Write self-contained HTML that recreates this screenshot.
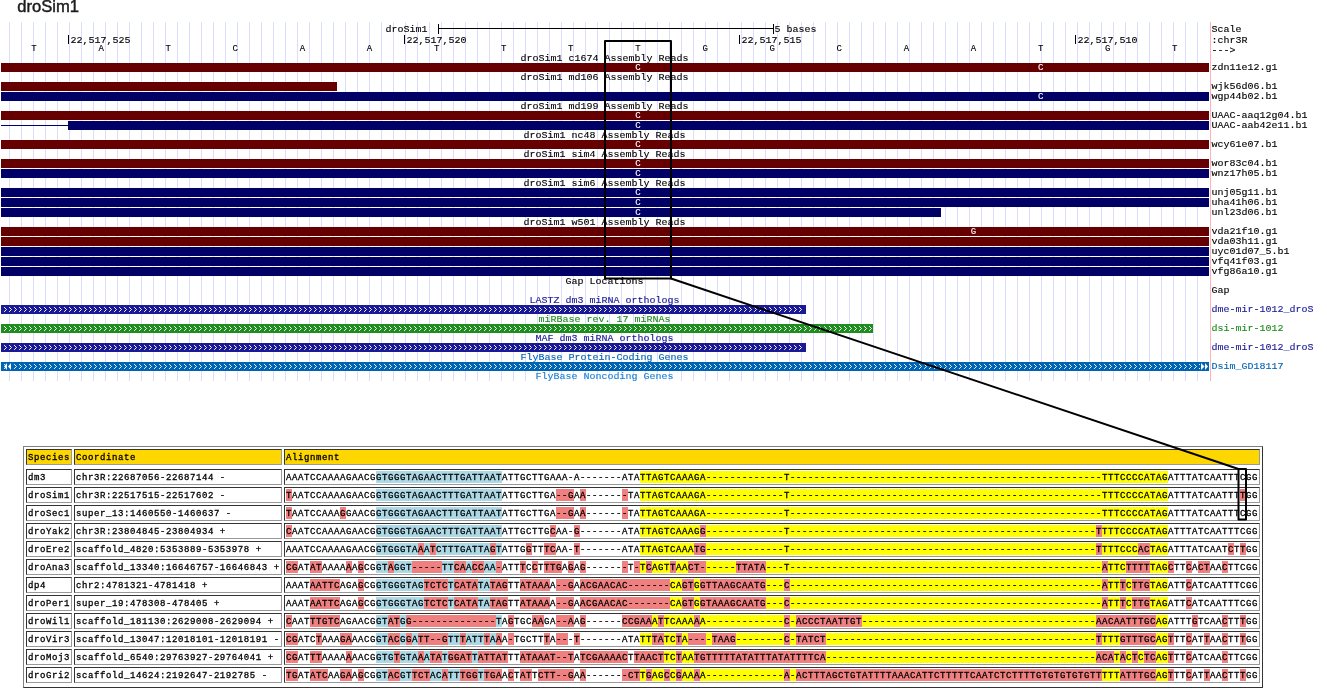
<!DOCTYPE html>
<html lang="en"><head><meta charset="utf-8"><title>droSim1</title>
<style>
html,body{margin:0;padding:0;background:#fff}
body{width:1327px;height:691px;position:relative;overflow:hidden}
.tbl{position:absolute;left:23px;top:446px;width:1238px;height:240px;border:1px solid;border-color:#808080 #333 #333 #808080}
.c{position:absolute;box-sizing:border-box;height:16px;border:1px solid;border-color:#333 #999 #999 #333;padding:1px;font:9px/15px "Liberation Mono", monospace;letter-spacing:0.59375px;white-space:pre;color:#000;overflow:hidden;-webkit-text-stroke:0.3px #000}
.c.h{background:#ffd700}
.c span{display:inline-block;height:12px;line-height:15px;vertical-align:top}
.r{background:#f08080}.b{background:#add8e6}.y{background:#ffff00}
svg{position:absolute;left:0;top:0;will-change:transform}
.tbl{will-change:transform}
.m{font:9px "Liberation Mono", monospace;white-space:pre;stroke-width:0.12px}
</style></head>
<body>
<div class="tbl"><div class="c h" style="left:2px;top:2px;width:46px">Species</div><div class="c h" style="left:50px;top:2px;width:208px">Coordinate</div><div class="c h" style="left:260px;top:2px;width:976px">Alignment</div><div class="c" style="left:2px;top:22px;width:46px">dm3</div><div class="c" style="left:50px;top:22px;width:208px">chr3R:22687056-22687144 -</div><div class="c" style="left:260px;top:22px;width:976px"><span style="width:90px">AAATCCAAAAGAACG</span><span class="b" style="width:126px">GTGGGTAGAACTTTGATTAAT</span><span style="width:138px">ATTGCTTGAAA-A-------ATA</span><span class="y" style="width:144px">TTAGTCAAAGA-------------</span><span class="y" style="width:144px">T-----------------------</span><span class="y" style="width:144px">------------------------</span><span class="y" style="width:96px">-----TTTCCCCATAG</span><span style="width:90px">ATTTATCAATTTCGG</span></div><div class="c" style="left:2px;top:40px;width:46px">droSim1</div><div class="c" style="left:50px;top:40px;width:208px">chr3R:22517515-22517602 -</div><div class="c" style="left:260px;top:40px;width:976px"><span class="r" style="width:6px">T</span><span style="width:84px">AATCCAAAAGAACG</span><span class="b" style="width:126px">GTGGGTAGAACTTTGATTAAT</span><span style="width:54px">ATTGCTTGA</span><span class="r" style="width:18px">--G</span><span style="width:6px">A</span><span class="r" style="width:6px">A</span><span style="width:36px">------</span><span class="r" style="width:6px">-</span><span style="width:12px">TA</span><span class="y" style="width:144px">TTAGTCAAAGA-------------</span><span class="y" style="width:144px">T-----------------------</span><span class="y" style="width:144px">------------------------</span><span class="y" style="width:96px">-----TTTCCCCATAG</span><span style="width:72px">ATTTATCAATTT</span><span class="r" style="width:6px">T</span><span style="width:12px">GG</span></div><div class="c" style="left:2px;top:58px;width:46px">droSec1</div><div class="c" style="left:50px;top:58px;width:208px">super_13:1460550-1460637 -</div><div class="c" style="left:260px;top:58px;width:976px"><span class="r" style="width:6px">T</span><span style="width:48px">AATCCAAA</span><span class="r" style="width:6px">G</span><span style="width:30px">GAACG</span><span class="b" style="width:126px">GTGGGTAGAACTTTGATTAAT</span><span style="width:54px">ATTGCTTGA</span><span class="r" style="width:18px">--G</span><span style="width:6px">A</span><span class="r" style="width:6px">A</span><span style="width:36px">------</span><span class="r" style="width:6px">-</span><span style="width:12px">TA</span><span class="y" style="width:144px">TTAGTCAAAGA-------------</span><span class="y" style="width:144px">T-----------------------</span><span class="y" style="width:144px">------------------------</span><span class="y" style="width:96px">-----TTTCCCCATAG</span><span style="width:90px">ATTTATCAATTTCGG</span></div><div class="c" style="left:2px;top:76px;width:46px">droYak2</div><div class="c" style="left:50px;top:76px;width:208px">chr3R:23804845-23804934 +</div><div class="c" style="left:260px;top:76px;width:976px"><span class="r" style="width:6px">C</span><span style="width:84px">AATCCAAAAGAACG</span><span class="b" style="width:126px">GTGGGTAGAACTTTGATTAAT</span><span style="width:48px">ATTGCTTG</span><span class="r" style="width:6px">C</span><span style="width:18px">AA-</span><span class="r" style="width:6px">G</span><span style="width:60px">-------ATA</span><span class="y" style="width:60px">TTAGTCAAAG</span><span class="r" style="width:6px">G</span><span class="y" style="width:144px">-------------T----------</span><span class="y" style="width:144px">------------------------</span><span class="y" style="width:102px">-----------------</span><span class="r" style="width:6px">T</span><span class="y" style="width:66px">TTTCCCCATAG</span><span style="width:90px">ATTTATCAATTTCGG</span></div><div class="c" style="left:2px;top:94px;width:46px">droEre2</div><div class="c" style="left:50px;top:94px;width:208px">scaffold_4820:5353889-5353978 +</div><div class="c" style="left:260px;top:94px;width:976px"><span style="width:90px">AAATCCAAAAGAACG</span><span class="b" style="width:42px">GTGGGTA</span><span class="r" style="width:6px">A</span><span class="b" style="width:6px">A</span><span class="r" style="width:6px">T</span><span class="b" style="width:54px">CTTTGATTA</span><span class="r" style="width:6px">G</span><span class="b" style="width:6px">T</span><span style="width:24px">ATTG</span><span class="r" style="width:6px">G</span><span style="width:12px">TT</span><span class="r" style="width:12px">TC</span><span style="width:18px">AA-</span><span class="r" style="width:6px">T</span><span style="width:60px">-------ATA</span><span class="y" style="width:54px">TTAGTCAAA</span><span class="r" style="width:12px">TG</span><span class="y" style="width:144px">-------------T----------</span><span class="y" style="width:144px">------------------------</span><span class="y" style="width:102px">-----------------</span><span class="r" style="width:6px">T</span><span class="y" style="width:36px">TTTCCC</span><span class="r" style="width:12px">AC</span><span class="y" style="width:18px">TAG</span><span style="width:60px">ATTTATCAAT</span><span class="r" style="width:6px">C</span><span style="width:6px">T</span><span class="r" style="width:6px">T</span><span style="width:12px">GG</span></div><div class="c" style="left:2px;top:112px;width:46px">droAna3</div><div class="c" style="left:50px;top:112px;width:208px">scaffold_13340:16646757-16646843 +</div><div class="c" style="left:260px;top:112px;width:976px"><span class="r" style="width:12px">CG</span><span style="width:12px">AT</span><span class="r" style="width:12px">AT</span><span style="width:24px">AAAA</span><span class="r" style="width:6px">A</span><span style="width:6px">A</span><span class="r" style="width:6px">G</span><span style="width:12px">CG</span><span class="b" style="width:12px">GT</span><span class="r" style="width:6px">A</span><span class="b" style="width:18px">GGT</span><span class="r" style="width:30px">-----</span><span class="b" style="width:12px">TT</span><span class="r" style="width:12px">CA</span><span class="b" style="width:6px">A</span><span class="r" style="width:12px">CC</span><span class="b" style="width:12px">AA</span><span class="r" style="width:6px">-</span><span style="width:18px">ATT</span><span class="r" style="width:6px">T</span><span style="width:6px">C</span><span class="r" style="width:6px">C</span><span style="width:6px">T</span><span class="r" style="width:18px">TTG</span><span style="width:6px">A</span><span class="r" style="width:6px">G</span><span style="width:6px">A</span><span class="r" style="width:6px">G</span><span style="width:36px">------</span><span class="r" style="width:6px">-</span><span style="width:6px">T</span><span class="r" style="width:6px">-</span><span class="y" style="width:6px">T</span><span class="r" style="width:6px">C</span><span class="y" style="width:18px">AGT</span><span class="r" style="width:6px">T</span><span class="y" style="width:12px">AA</span><span class="r" style="width:18px">CT-</span><span class="y" style="width:30px">-----</span><span class="r" style="width:30px">TTATA</span><span class="y" style="width:144px">---T--------------------</span><span class="y" style="width:144px">------------------------</span><span class="y" style="width:48px">--------</span><span class="r" style="width:6px">A</span><span class="y" style="width:18px">TTC</span><span class="r" style="width:24px">TTTT</span><span class="y" style="width:18px">TAG</span><span class="r" style="width:6px">C</span><span style="width:12px">TT</span><span class="r" style="width:6px">C</span><span style="width:6px">A</span><span class="r" style="width:12px">CT</span><span style="width:12px">AA</span><span class="r" style="width:6px">C</span><span style="width:30px">TTCGG</span></div><div class="c" style="left:2px;top:130px;width:46px">dp4</div><div class="c" style="left:50px;top:130px;width:208px">chr2:4781321-4781418 +</div><div class="c" style="left:260px;top:130px;width:976px"><span style="width:24px">AAAT</span><span class="r" style="width:30px">AATTC</span><span style="width:18px">AGA</span><span class="r" style="width:6px">G</span><span style="width:12px">CG</span><span class="b" style="width:48px">GTGGGTAG</span><span class="r" style="width:24px">TCTC</span><span class="b" style="width:6px">T</span><span class="r" style="width:24px">CATA</span><span class="b" style="width:12px">TA</span><span class="r" style="width:18px">TAG</span><span style="width:12px">TT</span><span class="r" style="width:30px">ATAAA</span><span style="width:6px">A</span><span class="r" style="width:18px">--G</span><span style="width:6px">A</span><span class="r" style="width:90px">ACGAACAC-------</span><span class="y" style="width:12px">CA</span><span class="r" style="width:12px">GT</span><span class="y" style="width:6px">G</span><span class="r" style="width:66px">GTTAAGCAATG</span><span class="y" style="width:18px">---</span><span class="r" style="width:6px">C</span><span class="y" style="width:144px">------------------------</span><span class="y" style="width:144px">------------------------</span><span class="y" style="width:24px">----</span><span class="r" style="width:6px">A</span><span class="y" style="width:12px">TT</span><span class="r" style="width:6px">T</span><span class="y" style="width:6px">C</span><span class="r" style="width:18px">TTG</span><span class="y" style="width:18px">TAG</span><span style="width:18px">ATT</span><span class="r" style="width:6px">C</span><span style="width:66px">ATCAATTTCGG</span></div><div class="c" style="left:2px;top:148px;width:46px">droPer1</div><div class="c" style="left:50px;top:148px;width:208px">super_19:478308-478405 +</div><div class="c" style="left:260px;top:148px;width:976px"><span style="width:24px">AAAT</span><span class="r" style="width:30px">AATTC</span><span style="width:18px">AGA</span><span class="r" style="width:6px">G</span><span style="width:12px">CG</span><span class="b" style="width:48px">GTGGGTAG</span><span class="r" style="width:24px">TCTC</span><span class="b" style="width:6px">T</span><span class="r" style="width:24px">CATA</span><span class="b" style="width:12px">TA</span><span class="r" style="width:18px">TAG</span><span style="width:12px">TT</span><span class="r" style="width:30px">ATAAA</span><span style="width:6px">A</span><span class="r" style="width:18px">--G</span><span style="width:6px">A</span><span class="r" style="width:90px">ACGAACAC-------</span><span class="y" style="width:12px">CA</span><span class="r" style="width:12px">GT</span><span class="y" style="width:6px">G</span><span class="r" style="width:66px">GTAAAGCAATG</span><span class="y" style="width:18px">---</span><span class="r" style="width:6px">C</span><span class="y" style="width:144px">------------------------</span><span class="y" style="width:144px">------------------------</span><span class="y" style="width:24px">----</span><span class="r" style="width:6px">A</span><span class="y" style="width:12px">TT</span><span class="r" style="width:6px">T</span><span class="y" style="width:6px">C</span><span class="r" style="width:18px">TTG</span><span class="y" style="width:18px">TAG</span><span style="width:18px">ATT</span><span class="r" style="width:6px">C</span><span style="width:66px">ATCAATTTCGG</span></div><div class="c" style="left:2px;top:166px;width:46px">droWil1</div><div class="c" style="left:50px;top:166px;width:208px">scaffold_181130:2629008-2629094 +</div><div class="c" style="left:260px;top:166px;width:976px"><span class="r" style="width:6px">C</span><span style="width:18px">AAT</span><span class="r" style="width:30px">TTGTC</span><span style="width:36px">AGAACG</span><span class="b" style="width:12px">GT</span><span class="r" style="width:12px">AT</span><span class="b" style="width:6px">G</span><span class="r" style="width:90px">G--------------</span><span class="b" style="width:6px">T</span><span style="width:6px">A</span><span class="r" style="width:6px">G</span><span style="width:18px">TGC</span><span class="r" style="width:12px">AA</span><span style="width:12px">GA</span><span class="r" style="width:18px">--A</span><span style="width:6px">A</span><span class="r" style="width:6px">G</span><span style="width:36px">------</span><span class="r" style="width:30px">CCGAA</span><span class="y" style="width:6px">A</span><span class="r" style="width:6px">T</span><span class="y" style="width:30px">TCAAA</span><span class="r" style="width:6px">A</span><span class="y" style="width:84px">A-------------</span><span class="r" style="width:6px">C</span><span class="y" style="width:6px">-</span><span class="r" style="width:66px">ACCCTAATTGT</span><span class="y" style="width:144px">------------------------</span><span class="y" style="width:90px">---------------</span><span class="r" style="width:60px">AACAATTTGC</span><span class="y" style="width:12px">AG</span><span style="width:24px">ATTT</span><span class="r" style="width:6px">G</span><span style="width:24px">TCAA</span><span class="r" style="width:6px">C</span><span style="width:12px">TT</span><span class="r" style="width:6px">T</span><span style="width:12px">GG</span></div><div class="c" style="left:2px;top:184px;width:46px">droVir3</div><div class="c" style="left:50px;top:184px;width:208px">scaffold_13047:12018101-12018191 -</div><div class="c" style="left:260px;top:184px;width:976px"><span class="r" style="width:12px">CG</span><span style="width:18px">ATC</span><span class="r" style="width:6px">T</span><span style="width:18px">AAA</span><span class="r" style="width:12px">GA</span><span style="width:24px">AACG</span><span class="b" style="width:12px">GT</span><span class="r" style="width:12px">AC</span><span class="b" style="width:6px">G</span><span class="r" style="width:6px">G</span><span class="b" style="width:6px">A</span><span class="r" style="width:30px">TT--G</span><span class="b" style="width:12px">TT</span><span class="r" style="width:6px">T</span><span class="b" style="width:18px">ATT</span><span class="r" style="width:6px">T</span><span class="b" style="width:6px">A</span><span class="r" style="width:6px">A</span><span style="width:6px">A</span><span class="r" style="width:6px">-</span><span style="width:30px">TGCTT</span><span class="r" style="width:6px">T</span><span style="width:6px">A</span><span class="r" style="width:12px">--</span><span style="width:6px">-</span><span class="r" style="width:6px">T</span><span style="width:60px">-------ATA</span><span class="y" style="width:12px">TT</span><span class="r" style="width:12px">TA</span><span class="y" style="width:12px">TC</span><span class="r" style="width:6px">T</span><span class="y" style="width:6px">A</span><span class="r" style="width:18px">---</span><span class="y" style="width:6px">-</span><span class="r" style="width:24px">TAAG</span><span class="y" style="width:48px">--------</span><span class="r" style="width:6px">C</span><span class="y" style="width:6px">-</span><span class="r" style="width:30px">TATCT</span><span class="y" style="width:144px">------------------------</span><span class="y" style="width:126px">---------------------</span><span class="r" style="width:6px">T</span><span class="y" style="width:18px">TTT</span><span class="r" style="width:36px">GTTTGC</span><span class="y" style="width:12px">AG</span><span class="r" style="width:6px">T</span><span style="width:12px">TT</span><span class="r" style="width:6px">C</span><span style="width:12px">AT</span><span class="r" style="width:6px">T</span><span style="width:12px">AA</span><span class="r" style="width:6px">C</span><span style="width:12px">TT</span><span class="r" style="width:6px">T</span><span style="width:12px">GG</span></div><div class="c" style="left:2px;top:202px;width:46px">droMoj3</div><div class="c" style="left:50px;top:202px;width:208px">scaffold_6540:29763927-29764041 +</div><div class="c" style="left:260px;top:202px;width:976px"><span class="r" style="width:12px">CG</span><span style="width:12px">AT</span><span class="r" style="width:12px">TT</span><span style="width:24px">AAAA</span><span class="r" style="width:6px">A</span><span style="width:24px">AACG</span><span class="b" style="width:18px">GTG</span><span class="r" style="width:6px">T</span><span class="b" style="width:18px">GTA</span><span class="r" style="width:6px">A</span><span class="b" style="width:6px">A</span><span class="r" style="width:12px">TA</span><span class="b" style="width:6px">T</span><span class="r" style="width:24px">GGAT</span><span class="b" style="width:6px">T</span><span class="r" style="width:30px">ATTAT</span><span style="width:12px">TT</span><span class="r" style="width:54px">ATAAAT--T</span><span style="width:6px">A</span><span class="r" style="width:48px">TCGAAAAC</span><span style="width:6px">T</span><span class="r" style="width:30px">TAACT</span><span class="y" style="width:12px">TC</span><span class="r" style="width:6px">T</span><span class="y" style="width:12px">AA</span><span class="r" style="width:132px">TGTTTTTATATTTATATTTTCA</span><span class="y" style="width:144px">------------------------</span><span class="y" style="width:126px">---------------------</span><span class="r" style="width:18px">ACA</span><span class="y" style="width:6px">T</span><span class="r" style="width:6px">A</span><span class="y" style="width:6px">C</span><span class="r" style="width:6px">T</span><span class="y" style="width:6px">C</span><span class="r" style="width:12px">TC</span><span class="y" style="width:12px">AG</span><span class="r" style="width:6px">T</span><span style="width:12px">TT</span><span class="r" style="width:6px">C</span><span style="width:30px">ATCAA</span><span class="r" style="width:6px">C</span><span style="width:30px">TTCGG</span></div><div class="c" style="left:2px;top:220px;width:46px">droGri2</div><div class="c" style="left:50px;top:220px;width:208px">scaffold_14624:2192647-2192785 -</div><div class="c" style="left:260px;top:220px;width:976px"><span class="r" style="width:12px">TG</span><span style="width:12px">AT</span><span class="r" style="width:18px">ATC</span><span style="width:12px">AA</span><span class="r" style="width:12px">GA</span><span style="width:6px">A</span><span class="r" style="width:6px">G</span><span style="width:12px">CG</span><span class="b" style="width:12px">GT</span><span class="r" style="width:12px">AC</span><span class="b" style="width:12px">GT</span><span class="r" style="width:18px">TCT</span><span class="b" style="width:12px">AC</span><span class="r" style="width:6px">A</span><span class="b" style="width:12px">TT</span><span class="r" style="width:18px">TGG</span><span class="b" style="width:6px">T</span><span class="r" style="width:18px">TGA</span><span style="width:6px">A</span><span class="r" style="width:6px">C</span><span style="width:6px">T</span><span class="r" style="width:12px">AT</span><span style="width:6px">T</span><span class="r" style="width:36px">CTT--G</span><span style="width:6px">A</span><span class="r" style="width:6px">A</span><span style="width:36px">------</span><span class="r" style="width:18px">-CT</span><span class="y" style="width:6px">T</span><span class="r" style="width:6px">G</span><span class="y" style="width:12px">AG</span><span class="r" style="width:6px">C</span><span class="y" style="width:6px">C</span><span class="r" style="width:6px">G</span><span class="y" style="width:12px">AA</span><span class="r" style="width:6px">A</span><span class="y" style="width:84px">A-------------</span><span class="r" style="width:6px">A</span><span class="y" style="width:6px">-</span><span class="r" style="width:144px">ACTTTAGCTGTATTTTAAACATTC</span><span class="r" style="width:144px">TTTTTCAATCTCTTTTGTGTGTGT</span><span class="r" style="width:18px">GTT</span><span class="y" style="width:18px">TTT</span><span class="r" style="width:36px">ATTTGC</span><span class="y" style="width:12px">AG</span><span class="r" style="width:6px">T</span><span style="width:12px">TT</span><span class="r" style="width:6px">C</span><span style="width:12px">AT</span><span class="r" style="width:6px">T</span><span style="width:12px">AA</span><span class="r" style="width:6px">C</span><span style="width:12px">TT</span><span class="r" style="width:6px">T</span><span style="width:12px">GG</span></div></div>
<svg width="1327" height="691" viewBox="0 0 1327 691">
<path d="M9.5 22V381M21.5 22V381M33.5 22V381M45.5 22V381M57.5 22V381M69.5 22V381M81.5 22V381M93.5 22V381M105.5 22V381M117.5 22V381M129.5 22V381M141.5 22V381M153.5 22V381M165.5 22V381M177.5 22V381M189.5 22V381M201.5 22V381M213.5 22V381M225.5 22V381M237.5 22V381M249.5 22V381M261.5 22V381M273.5 22V381M285.5 22V381M297.5 22V381M309.5 22V381M321.5 22V381M333.5 22V381M345.5 22V381M357.5 22V381M369.5 22V381M381.5 22V381M393.5 22V381M405.5 22V381M417.5 22V381M429.5 22V381M441.5 22V381M453.5 22V381M465.5 22V381M477.5 22V381M489.5 22V381M501.5 22V381M513.5 22V381M525.5 22V381M537.5 22V381M549.5 22V381M561.5 22V381M573.5 22V381M585.5 22V381M597.5 22V381M609.5 22V381M621.5 22V381M633.5 22V381M645.5 22V381M657.5 22V381M669.5 22V381M681.5 22V381M693.5 22V381M705.5 22V381M717.5 22V381M729.5 22V381M741.5 22V381M753.5 22V381M765.5 22V381M777.5 22V381M789.5 22V381M801.5 22V381M813.5 22V381M825.5 22V381M837.5 22V381M849.5 22V381M861.5 22V381M873.5 22V381M885.5 22V381M897.5 22V381M909.5 22V381M921.5 22V381M933.5 22V381M945.5 22V381M957.5 22V381M969.5 22V381M981.5 22V381M993.5 22V381M1005.5 22V381M1017.5 22V381M1029.5 22V381M1041.5 22V381M1053.5 22V381M1065.5 22V381M1077.5 22V381M1089.5 22V381M1101.5 22V381M1113.5 22V381M1125.5 22V381M1137.5 22V381M1149.5 22V381M1161.5 22V381M1173.5 22V381M1185.5 22V381M1197.5 22V381" stroke="#dcdcff" stroke-width="1" fill="none"/>
<path d="M1210.5 22V381" stroke="#ffb4b4" stroke-width="1" fill="none"/>
<text x="17.2" y="12.1" style="font:16.6px 'Liberation Sans',sans-serif" fill="#1c1c1c" stroke="#1c1c1c" stroke-width="0.45">droSim1</text>
<text class="m" x="385.5" y="32" fill="#000" stroke="#000" textLength="42" lengthAdjust="spacingAndGlyphs">droSim1</text>
<rect x="438" y="28" width="336" height="1" fill="#000"/>
<rect x="438" y="24" width="1" height="10" fill="#000"/>
<rect x="773" y="24" width="1" height="10" fill="#000"/>
<text class="m" x="774.5" y="32" fill="#000" stroke="#000" textLength="42" lengthAdjust="spacingAndGlyphs">5 bases</text>
<text class="m" x="1211.5" y="32" fill="#000" stroke="#000" textLength="30" lengthAdjust="spacingAndGlyphs">Scale</text>
<text class="m" x="1211.5" y="43" fill="#000" stroke="#000" textLength="36" lengthAdjust="spacingAndGlyphs">:chr3R</text>
<text class="m" x="1211.5" y="52.5" fill="#000" stroke="#000" textLength="24" lengthAdjust="spacingAndGlyphs">---&gt;</text>
<rect x="68" y="35" width="1" height="9" fill="#000"/>
<text class="m" x="70.5" y="43" fill="#000" stroke="#000" textLength="60" lengthAdjust="spacingAndGlyphs">22,517,525</text>
<rect x="404" y="35" width="1" height="9" fill="#000"/>
<text class="m" x="406.5" y="43" fill="#000" stroke="#000" textLength="60" lengthAdjust="spacingAndGlyphs">22,517,520</text>
<rect x="739" y="35" width="1" height="9" fill="#000"/>
<text class="m" x="741.5" y="43" fill="#000" stroke="#000" textLength="60" lengthAdjust="spacingAndGlyphs">22,517,515</text>
<rect x="1075" y="35" width="1" height="9" fill="#000"/>
<text class="m" x="1077.5" y="43" fill="#000" stroke="#000" textLength="60" lengthAdjust="spacingAndGlyphs">22,517,510</text>
<text class="m" x="31.3" y="51" fill="#000" stroke="#000">T</text>
<text class="m" x="98.4" y="51" fill="#000" stroke="#000">A</text>
<text class="m" x="165.5" y="51" fill="#000" stroke="#000">T</text>
<text class="m" x="232.6" y="51" fill="#000" stroke="#000">C</text>
<text class="m" x="299.7" y="51" fill="#000" stroke="#000">A</text>
<text class="m" x="366.8" y="51" fill="#000" stroke="#000">A</text>
<text class="m" x="433.9" y="51" fill="#000" stroke="#000">T</text>
<text class="m" x="501.0" y="51" fill="#000" stroke="#000">T</text>
<text class="m" x="568.1" y="51" fill="#000" stroke="#000">T</text>
<text class="m" x="635.3" y="51" fill="#000" stroke="#000">T</text>
<text class="m" x="702.4" y="51" fill="#000" stroke="#000">G</text>
<text class="m" x="769.5" y="51" fill="#000" stroke="#000">G</text>
<text class="m" x="836.6" y="51" fill="#000" stroke="#000">C</text>
<text class="m" x="903.7" y="51" fill="#000" stroke="#000">A</text>
<text class="m" x="970.8" y="51" fill="#000" stroke="#000">A</text>
<text class="m" x="1037.9" y="51" fill="#000" stroke="#000">T</text>
<text class="m" x="1105.0" y="51" fill="#000" stroke="#000">G</text>
<text class="m" x="1172.1" y="51" fill="#000" stroke="#000">T</text>
<text class="m" x="520.5" y="61" fill="#000" stroke="#000" textLength="168" lengthAdjust="spacingAndGlyphs">droSim1 c1674 Assembly Reads</text>
<rect x="1" y="63" width="1208" height="9" fill="#660000"/>
<text class="m" x="635.3" y="70" fill="#fff" stroke="#fff">C</text>
<text class="m" x="1037.9" y="70" fill="#fff" stroke="#fff">C</text>
<text class="m" x="1211.5" y="70" fill="#000" stroke="#000" textLength="66" lengthAdjust="spacingAndGlyphs">zdn11e12.g1</text>
<text class="m" x="520.5" y="80" fill="#000" stroke="#000" textLength="168" lengthAdjust="spacingAndGlyphs">droSim1 md106 Assembly Reads</text>
<rect x="1" y="82" width="336" height="9" fill="#660000"/>
<text class="m" x="1211.5" y="89" fill="#000" stroke="#000" textLength="66" lengthAdjust="spacingAndGlyphs">wjk56d06.b1</text>
<rect x="1" y="92" width="1208" height="9" fill="#000066"/>
<text class="m" x="1037.9" y="99" fill="#fff" stroke="#fff">C</text>
<text class="m" x="1211.5" y="99" fill="#000" stroke="#000" textLength="66" lengthAdjust="spacingAndGlyphs">wgp44b02.b1</text>
<text class="m" x="520.5" y="109" fill="#000" stroke="#000" textLength="168" lengthAdjust="spacingAndGlyphs">droSim1 md199 Assembly Reads</text>
<rect x="1" y="111" width="1208" height="9" fill="#660000"/>
<text class="m" x="635.3" y="118" fill="#fff" stroke="#fff">C</text>
<text class="m" x="1211.5" y="118" fill="#000" stroke="#000" textLength="96" lengthAdjust="spacingAndGlyphs">UAAC-aaq12g04.b1</text>
<rect x="1" y="125" width="67" height="1" fill="#000066"/>
<rect x="68" y="121" width="1141" height="9" fill="#000066"/>
<text class="m" x="635.3" y="128" fill="#fff" stroke="#fff">C</text>
<text class="m" x="1211.5" y="128" fill="#000" stroke="#000" textLength="96" lengthAdjust="spacingAndGlyphs">UAAC-aab42e11.b1</text>
<text class="m" x="523.5" y="138" fill="#000" stroke="#000" textLength="162" lengthAdjust="spacingAndGlyphs">droSim1 nc48 Assembly Reads</text>
<rect x="1" y="140" width="1208" height="9" fill="#660000"/>
<text class="m" x="635.3" y="147" fill="#fff" stroke="#fff">C</text>
<text class="m" x="1211.5" y="147" fill="#000" stroke="#000" textLength="66" lengthAdjust="spacingAndGlyphs">wcy61e07.b1</text>
<text class="m" x="523.5" y="157" fill="#000" stroke="#000" textLength="162" lengthAdjust="spacingAndGlyphs">droSim1 sim4 Assembly Reads</text>
<rect x="1" y="159" width="1208" height="9" fill="#660000"/>
<text class="m" x="635.3" y="166" fill="#fff" stroke="#fff">C</text>
<text class="m" x="1211.5" y="166" fill="#000" stroke="#000" textLength="66" lengthAdjust="spacingAndGlyphs">wor83c04.b1</text>
<rect x="1" y="169" width="1208" height="9" fill="#000066"/>
<text class="m" x="635.3" y="176" fill="#fff" stroke="#fff">C</text>
<text class="m" x="1211.5" y="176" fill="#000" stroke="#000" textLength="66" lengthAdjust="spacingAndGlyphs">wnz17h05.b1</text>
<text class="m" x="523.5" y="186" fill="#000" stroke="#000" textLength="162" lengthAdjust="spacingAndGlyphs">droSim1 sim6 Assembly Reads</text>
<rect x="1" y="188" width="1208" height="9" fill="#000066"/>
<text class="m" x="635.3" y="195" fill="#fff" stroke="#fff">C</text>
<text class="m" x="1211.5" y="195" fill="#000" stroke="#000" textLength="66" lengthAdjust="spacingAndGlyphs">unj05g11.b1</text>
<rect x="1" y="198" width="1208" height="9" fill="#000066"/>
<text class="m" x="635.3" y="205" fill="#fff" stroke="#fff">C</text>
<text class="m" x="1211.5" y="205" fill="#000" stroke="#000" textLength="66" lengthAdjust="spacingAndGlyphs">uha41h06.b1</text>
<rect x="1" y="208" width="940" height="9" fill="#000066"/>
<text class="m" x="635.3" y="215" fill="#fff" stroke="#fff">C</text>
<text class="m" x="1211.5" y="215" fill="#000" stroke="#000" textLength="66" lengthAdjust="spacingAndGlyphs">unl23d06.b1</text>
<text class="m" x="523.5" y="225" fill="#000" stroke="#000" textLength="162" lengthAdjust="spacingAndGlyphs">droSim1 w501 Assembly Reads</text>
<rect x="1" y="227" width="1208" height="9" fill="#660000"/>
<text class="m" x="970.8" y="234" fill="#fff" stroke="#fff">G</text>
<text class="m" x="1211.5" y="234" fill="#000" stroke="#000" textLength="66" lengthAdjust="spacingAndGlyphs">vda21f10.g1</text>
<rect x="1" y="237" width="1208" height="9" fill="#660000"/>
<text class="m" x="1211.5" y="244" fill="#000" stroke="#000" textLength="66" lengthAdjust="spacingAndGlyphs">vda03h11.g1</text>
<rect x="1" y="247" width="1208" height="9" fill="#000066"/>
<text class="m" x="1211.5" y="254" fill="#000" stroke="#000" textLength="78" lengthAdjust="spacingAndGlyphs">uyc01d07_5.b1</text>
<rect x="1" y="257" width="1208" height="9" fill="#000066"/>
<text class="m" x="1211.5" y="264" fill="#000" stroke="#000" textLength="66" lengthAdjust="spacingAndGlyphs">vfq41f03.g1</text>
<rect x="1" y="267" width="1208" height="9" fill="#000066"/>
<text class="m" x="1211.5" y="274" fill="#000" stroke="#000" textLength="66" lengthAdjust="spacingAndGlyphs">vfg86a10.g1</text>
<text class="m" x="565.5" y="284" fill="#000" stroke="#000" textLength="78" lengthAdjust="spacingAndGlyphs">Gap Locations</text>
<text class="m" x="1211.5" y="293" fill="#000" stroke="#000" textLength="18" lengthAdjust="spacingAndGlyphs">Gap</text>
<text class="m" x="529.5" y="303" fill="#1a1a96" stroke="#1a1a96" textLength="150" lengthAdjust="spacingAndGlyphs">LASTZ dm3 miRNA orthologs</text>
<rect x="1" y="305" width="805" height="9" fill="#1a1a96"/>
<path d="M4.5 307.5l2 2l-2 2M9.5 307.5l2 2l-2 2M14.5 307.5l2 2l-2 2M19.5 307.5l2 2l-2 2M24.5 307.5l2 2l-2 2M29.5 307.5l2 2l-2 2M34.5 307.5l2 2l-2 2M39.5 307.5l2 2l-2 2M44.5 307.5l2 2l-2 2M49.5 307.5l2 2l-2 2M54.5 307.5l2 2l-2 2M59.5 307.5l2 2l-2 2M64.5 307.5l2 2l-2 2M69.5 307.5l2 2l-2 2M74.5 307.5l2 2l-2 2M79.5 307.5l2 2l-2 2M84.5 307.5l2 2l-2 2M89.5 307.5l2 2l-2 2M94.5 307.5l2 2l-2 2M99.5 307.5l2 2l-2 2M104.5 307.5l2 2l-2 2M109.5 307.5l2 2l-2 2M114.5 307.5l2 2l-2 2M119.5 307.5l2 2l-2 2M124.5 307.5l2 2l-2 2M129.5 307.5l2 2l-2 2M134.5 307.5l2 2l-2 2M139.5 307.5l2 2l-2 2M144.5 307.5l2 2l-2 2M149.5 307.5l2 2l-2 2M154.5 307.5l2 2l-2 2M159.5 307.5l2 2l-2 2M164.5 307.5l2 2l-2 2M169.5 307.5l2 2l-2 2M174.5 307.5l2 2l-2 2M179.5 307.5l2 2l-2 2M184.5 307.5l2 2l-2 2M189.5 307.5l2 2l-2 2M194.5 307.5l2 2l-2 2M199.5 307.5l2 2l-2 2M204.5 307.5l2 2l-2 2M209.5 307.5l2 2l-2 2M214.5 307.5l2 2l-2 2M219.5 307.5l2 2l-2 2M224.5 307.5l2 2l-2 2M229.5 307.5l2 2l-2 2M234.5 307.5l2 2l-2 2M239.5 307.5l2 2l-2 2M244.5 307.5l2 2l-2 2M249.5 307.5l2 2l-2 2M254.5 307.5l2 2l-2 2M259.5 307.5l2 2l-2 2M264.5 307.5l2 2l-2 2M269.5 307.5l2 2l-2 2M274.5 307.5l2 2l-2 2M279.5 307.5l2 2l-2 2M284.5 307.5l2 2l-2 2M289.5 307.5l2 2l-2 2M294.5 307.5l2 2l-2 2M299.5 307.5l2 2l-2 2M304.5 307.5l2 2l-2 2M309.5 307.5l2 2l-2 2M314.5 307.5l2 2l-2 2M319.5 307.5l2 2l-2 2M324.5 307.5l2 2l-2 2M329.5 307.5l2 2l-2 2M334.5 307.5l2 2l-2 2M339.5 307.5l2 2l-2 2M344.5 307.5l2 2l-2 2M349.5 307.5l2 2l-2 2M354.5 307.5l2 2l-2 2M359.5 307.5l2 2l-2 2M364.5 307.5l2 2l-2 2M369.5 307.5l2 2l-2 2M374.5 307.5l2 2l-2 2M379.5 307.5l2 2l-2 2M384.5 307.5l2 2l-2 2M389.5 307.5l2 2l-2 2M394.5 307.5l2 2l-2 2M399.5 307.5l2 2l-2 2M404.5 307.5l2 2l-2 2M409.5 307.5l2 2l-2 2M414.5 307.5l2 2l-2 2M419.5 307.5l2 2l-2 2M424.5 307.5l2 2l-2 2M429.5 307.5l2 2l-2 2M434.5 307.5l2 2l-2 2M439.5 307.5l2 2l-2 2M444.5 307.5l2 2l-2 2M449.5 307.5l2 2l-2 2M454.5 307.5l2 2l-2 2M459.5 307.5l2 2l-2 2M464.5 307.5l2 2l-2 2M469.5 307.5l2 2l-2 2M474.5 307.5l2 2l-2 2M479.5 307.5l2 2l-2 2M484.5 307.5l2 2l-2 2M489.5 307.5l2 2l-2 2M494.5 307.5l2 2l-2 2M499.5 307.5l2 2l-2 2M504.5 307.5l2 2l-2 2M509.5 307.5l2 2l-2 2M514.5 307.5l2 2l-2 2M519.5 307.5l2 2l-2 2M524.5 307.5l2 2l-2 2M529.5 307.5l2 2l-2 2M534.5 307.5l2 2l-2 2M539.5 307.5l2 2l-2 2M544.5 307.5l2 2l-2 2M549.5 307.5l2 2l-2 2M554.5 307.5l2 2l-2 2M559.5 307.5l2 2l-2 2M564.5 307.5l2 2l-2 2M569.5 307.5l2 2l-2 2M574.5 307.5l2 2l-2 2M579.5 307.5l2 2l-2 2M584.5 307.5l2 2l-2 2M589.5 307.5l2 2l-2 2M594.5 307.5l2 2l-2 2M599.5 307.5l2 2l-2 2M604.5 307.5l2 2l-2 2M609.5 307.5l2 2l-2 2M614.5 307.5l2 2l-2 2M619.5 307.5l2 2l-2 2M624.5 307.5l2 2l-2 2M629.5 307.5l2 2l-2 2M634.5 307.5l2 2l-2 2M639.5 307.5l2 2l-2 2M644.5 307.5l2 2l-2 2M649.5 307.5l2 2l-2 2M654.5 307.5l2 2l-2 2M659.5 307.5l2 2l-2 2M664.5 307.5l2 2l-2 2M669.5 307.5l2 2l-2 2M674.5 307.5l2 2l-2 2M679.5 307.5l2 2l-2 2M684.5 307.5l2 2l-2 2M689.5 307.5l2 2l-2 2M694.5 307.5l2 2l-2 2M699.5 307.5l2 2l-2 2M704.5 307.5l2 2l-2 2M709.5 307.5l2 2l-2 2M714.5 307.5l2 2l-2 2M719.5 307.5l2 2l-2 2M724.5 307.5l2 2l-2 2M729.5 307.5l2 2l-2 2M734.5 307.5l2 2l-2 2M739.5 307.5l2 2l-2 2M744.5 307.5l2 2l-2 2M749.5 307.5l2 2l-2 2M754.5 307.5l2 2l-2 2M759.5 307.5l2 2l-2 2M764.5 307.5l2 2l-2 2M769.5 307.5l2 2l-2 2M774.5 307.5l2 2l-2 2M779.5 307.5l2 2l-2 2M784.5 307.5l2 2l-2 2M789.5 307.5l2 2l-2 2M794.5 307.5l2 2l-2 2M799.5 307.5l2 2l-2 2" stroke="#fff" stroke-width="1" fill="none" stroke-linecap="square"/>
<text class="m" x="1211.5" y="312" fill="#1a1a96" stroke="#1a1a96" textLength="102" lengthAdjust="spacingAndGlyphs">dme-mir-1012_droS</text>
<text class="m" x="538.5" y="322" fill="#1e8c1e" stroke="#1e8c1e" textLength="132" lengthAdjust="spacingAndGlyphs">miRBase rev. 17 miRNAs</text>
<rect x="1" y="324" width="872" height="9" fill="#1e8c1e"/>
<path d="M4.5 326.5l2 2l-2 2M9.5 326.5l2 2l-2 2M14.5 326.5l2 2l-2 2M19.5 326.5l2 2l-2 2M24.5 326.5l2 2l-2 2M29.5 326.5l2 2l-2 2M34.5 326.5l2 2l-2 2M39.5 326.5l2 2l-2 2M44.5 326.5l2 2l-2 2M49.5 326.5l2 2l-2 2M54.5 326.5l2 2l-2 2M59.5 326.5l2 2l-2 2M64.5 326.5l2 2l-2 2M69.5 326.5l2 2l-2 2M74.5 326.5l2 2l-2 2M79.5 326.5l2 2l-2 2M84.5 326.5l2 2l-2 2M89.5 326.5l2 2l-2 2M94.5 326.5l2 2l-2 2M99.5 326.5l2 2l-2 2M104.5 326.5l2 2l-2 2M109.5 326.5l2 2l-2 2M114.5 326.5l2 2l-2 2M119.5 326.5l2 2l-2 2M124.5 326.5l2 2l-2 2M129.5 326.5l2 2l-2 2M134.5 326.5l2 2l-2 2M139.5 326.5l2 2l-2 2M144.5 326.5l2 2l-2 2M149.5 326.5l2 2l-2 2M154.5 326.5l2 2l-2 2M159.5 326.5l2 2l-2 2M164.5 326.5l2 2l-2 2M169.5 326.5l2 2l-2 2M174.5 326.5l2 2l-2 2M179.5 326.5l2 2l-2 2M184.5 326.5l2 2l-2 2M189.5 326.5l2 2l-2 2M194.5 326.5l2 2l-2 2M199.5 326.5l2 2l-2 2M204.5 326.5l2 2l-2 2M209.5 326.5l2 2l-2 2M214.5 326.5l2 2l-2 2M219.5 326.5l2 2l-2 2M224.5 326.5l2 2l-2 2M229.5 326.5l2 2l-2 2M234.5 326.5l2 2l-2 2M239.5 326.5l2 2l-2 2M244.5 326.5l2 2l-2 2M249.5 326.5l2 2l-2 2M254.5 326.5l2 2l-2 2M259.5 326.5l2 2l-2 2M264.5 326.5l2 2l-2 2M269.5 326.5l2 2l-2 2M274.5 326.5l2 2l-2 2M279.5 326.5l2 2l-2 2M284.5 326.5l2 2l-2 2M289.5 326.5l2 2l-2 2M294.5 326.5l2 2l-2 2M299.5 326.5l2 2l-2 2M304.5 326.5l2 2l-2 2M309.5 326.5l2 2l-2 2M314.5 326.5l2 2l-2 2M319.5 326.5l2 2l-2 2M324.5 326.5l2 2l-2 2M329.5 326.5l2 2l-2 2M334.5 326.5l2 2l-2 2M339.5 326.5l2 2l-2 2M344.5 326.5l2 2l-2 2M349.5 326.5l2 2l-2 2M354.5 326.5l2 2l-2 2M359.5 326.5l2 2l-2 2M364.5 326.5l2 2l-2 2M369.5 326.5l2 2l-2 2M374.5 326.5l2 2l-2 2M379.5 326.5l2 2l-2 2M384.5 326.5l2 2l-2 2M389.5 326.5l2 2l-2 2M394.5 326.5l2 2l-2 2M399.5 326.5l2 2l-2 2M404.5 326.5l2 2l-2 2M409.5 326.5l2 2l-2 2M414.5 326.5l2 2l-2 2M419.5 326.5l2 2l-2 2M424.5 326.5l2 2l-2 2M429.5 326.5l2 2l-2 2M434.5 326.5l2 2l-2 2M439.5 326.5l2 2l-2 2M444.5 326.5l2 2l-2 2M449.5 326.5l2 2l-2 2M454.5 326.5l2 2l-2 2M459.5 326.5l2 2l-2 2M464.5 326.5l2 2l-2 2M469.5 326.5l2 2l-2 2M474.5 326.5l2 2l-2 2M479.5 326.5l2 2l-2 2M484.5 326.5l2 2l-2 2M489.5 326.5l2 2l-2 2M494.5 326.5l2 2l-2 2M499.5 326.5l2 2l-2 2M504.5 326.5l2 2l-2 2M509.5 326.5l2 2l-2 2M514.5 326.5l2 2l-2 2M519.5 326.5l2 2l-2 2M524.5 326.5l2 2l-2 2M529.5 326.5l2 2l-2 2M534.5 326.5l2 2l-2 2M539.5 326.5l2 2l-2 2M544.5 326.5l2 2l-2 2M549.5 326.5l2 2l-2 2M554.5 326.5l2 2l-2 2M559.5 326.5l2 2l-2 2M564.5 326.5l2 2l-2 2M569.5 326.5l2 2l-2 2M574.5 326.5l2 2l-2 2M579.5 326.5l2 2l-2 2M584.5 326.5l2 2l-2 2M589.5 326.5l2 2l-2 2M594.5 326.5l2 2l-2 2M599.5 326.5l2 2l-2 2M604.5 326.5l2 2l-2 2M609.5 326.5l2 2l-2 2M614.5 326.5l2 2l-2 2M619.5 326.5l2 2l-2 2M624.5 326.5l2 2l-2 2M629.5 326.5l2 2l-2 2M634.5 326.5l2 2l-2 2M639.5 326.5l2 2l-2 2M644.5 326.5l2 2l-2 2M649.5 326.5l2 2l-2 2M654.5 326.5l2 2l-2 2M659.5 326.5l2 2l-2 2M664.5 326.5l2 2l-2 2M669.5 326.5l2 2l-2 2M674.5 326.5l2 2l-2 2M679.5 326.5l2 2l-2 2M684.5 326.5l2 2l-2 2M689.5 326.5l2 2l-2 2M694.5 326.5l2 2l-2 2M699.5 326.5l2 2l-2 2M704.5 326.5l2 2l-2 2M709.5 326.5l2 2l-2 2M714.5 326.5l2 2l-2 2M719.5 326.5l2 2l-2 2M724.5 326.5l2 2l-2 2M729.5 326.5l2 2l-2 2M734.5 326.5l2 2l-2 2M739.5 326.5l2 2l-2 2M744.5 326.5l2 2l-2 2M749.5 326.5l2 2l-2 2M754.5 326.5l2 2l-2 2M759.5 326.5l2 2l-2 2M764.5 326.5l2 2l-2 2M769.5 326.5l2 2l-2 2M774.5 326.5l2 2l-2 2M779.5 326.5l2 2l-2 2M784.5 326.5l2 2l-2 2M789.5 326.5l2 2l-2 2M794.5 326.5l2 2l-2 2M799.5 326.5l2 2l-2 2M804.5 326.5l2 2l-2 2M809.5 326.5l2 2l-2 2M814.5 326.5l2 2l-2 2M819.5 326.5l2 2l-2 2M824.5 326.5l2 2l-2 2M829.5 326.5l2 2l-2 2M834.5 326.5l2 2l-2 2M839.5 326.5l2 2l-2 2M844.5 326.5l2 2l-2 2M849.5 326.5l2 2l-2 2M854.5 326.5l2 2l-2 2M859.5 326.5l2 2l-2 2M864.5 326.5l2 2l-2 2M869.5 326.5l2 2l-2 2" stroke="#fff" stroke-width="1" fill="none" stroke-linecap="square"/>
<text class="m" x="1211.5" y="331" fill="#1e8c1e" stroke="#1e8c1e" textLength="72" lengthAdjust="spacingAndGlyphs">dsi-mir-1012</text>
<text class="m" x="535.5" y="341" fill="#1a1a96" stroke="#1a1a96" textLength="138" lengthAdjust="spacingAndGlyphs">MAF dm3 miRNA orthologs</text>
<rect x="1" y="343" width="805" height="9" fill="#1a1a96"/>
<path d="M4.5 345.5l2 2l-2 2M9.5 345.5l2 2l-2 2M14.5 345.5l2 2l-2 2M19.5 345.5l2 2l-2 2M24.5 345.5l2 2l-2 2M29.5 345.5l2 2l-2 2M34.5 345.5l2 2l-2 2M39.5 345.5l2 2l-2 2M44.5 345.5l2 2l-2 2M49.5 345.5l2 2l-2 2M54.5 345.5l2 2l-2 2M59.5 345.5l2 2l-2 2M64.5 345.5l2 2l-2 2M69.5 345.5l2 2l-2 2M74.5 345.5l2 2l-2 2M79.5 345.5l2 2l-2 2M84.5 345.5l2 2l-2 2M89.5 345.5l2 2l-2 2M94.5 345.5l2 2l-2 2M99.5 345.5l2 2l-2 2M104.5 345.5l2 2l-2 2M109.5 345.5l2 2l-2 2M114.5 345.5l2 2l-2 2M119.5 345.5l2 2l-2 2M124.5 345.5l2 2l-2 2M129.5 345.5l2 2l-2 2M134.5 345.5l2 2l-2 2M139.5 345.5l2 2l-2 2M144.5 345.5l2 2l-2 2M149.5 345.5l2 2l-2 2M154.5 345.5l2 2l-2 2M159.5 345.5l2 2l-2 2M164.5 345.5l2 2l-2 2M169.5 345.5l2 2l-2 2M174.5 345.5l2 2l-2 2M179.5 345.5l2 2l-2 2M184.5 345.5l2 2l-2 2M189.5 345.5l2 2l-2 2M194.5 345.5l2 2l-2 2M199.5 345.5l2 2l-2 2M204.5 345.5l2 2l-2 2M209.5 345.5l2 2l-2 2M214.5 345.5l2 2l-2 2M219.5 345.5l2 2l-2 2M224.5 345.5l2 2l-2 2M229.5 345.5l2 2l-2 2M234.5 345.5l2 2l-2 2M239.5 345.5l2 2l-2 2M244.5 345.5l2 2l-2 2M249.5 345.5l2 2l-2 2M254.5 345.5l2 2l-2 2M259.5 345.5l2 2l-2 2M264.5 345.5l2 2l-2 2M269.5 345.5l2 2l-2 2M274.5 345.5l2 2l-2 2M279.5 345.5l2 2l-2 2M284.5 345.5l2 2l-2 2M289.5 345.5l2 2l-2 2M294.5 345.5l2 2l-2 2M299.5 345.5l2 2l-2 2M304.5 345.5l2 2l-2 2M309.5 345.5l2 2l-2 2M314.5 345.5l2 2l-2 2M319.5 345.5l2 2l-2 2M324.5 345.5l2 2l-2 2M329.5 345.5l2 2l-2 2M334.5 345.5l2 2l-2 2M339.5 345.5l2 2l-2 2M344.5 345.5l2 2l-2 2M349.5 345.5l2 2l-2 2M354.5 345.5l2 2l-2 2M359.5 345.5l2 2l-2 2M364.5 345.5l2 2l-2 2M369.5 345.5l2 2l-2 2M374.5 345.5l2 2l-2 2M379.5 345.5l2 2l-2 2M384.5 345.5l2 2l-2 2M389.5 345.5l2 2l-2 2M394.5 345.5l2 2l-2 2M399.5 345.5l2 2l-2 2M404.5 345.5l2 2l-2 2M409.5 345.5l2 2l-2 2M414.5 345.5l2 2l-2 2M419.5 345.5l2 2l-2 2M424.5 345.5l2 2l-2 2M429.5 345.5l2 2l-2 2M434.5 345.5l2 2l-2 2M439.5 345.5l2 2l-2 2M444.5 345.5l2 2l-2 2M449.5 345.5l2 2l-2 2M454.5 345.5l2 2l-2 2M459.5 345.5l2 2l-2 2M464.5 345.5l2 2l-2 2M469.5 345.5l2 2l-2 2M474.5 345.5l2 2l-2 2M479.5 345.5l2 2l-2 2M484.5 345.5l2 2l-2 2M489.5 345.5l2 2l-2 2M494.5 345.5l2 2l-2 2M499.5 345.5l2 2l-2 2M504.5 345.5l2 2l-2 2M509.5 345.5l2 2l-2 2M514.5 345.5l2 2l-2 2M519.5 345.5l2 2l-2 2M524.5 345.5l2 2l-2 2M529.5 345.5l2 2l-2 2M534.5 345.5l2 2l-2 2M539.5 345.5l2 2l-2 2M544.5 345.5l2 2l-2 2M549.5 345.5l2 2l-2 2M554.5 345.5l2 2l-2 2M559.5 345.5l2 2l-2 2M564.5 345.5l2 2l-2 2M569.5 345.5l2 2l-2 2M574.5 345.5l2 2l-2 2M579.5 345.5l2 2l-2 2M584.5 345.5l2 2l-2 2M589.5 345.5l2 2l-2 2M594.5 345.5l2 2l-2 2M599.5 345.5l2 2l-2 2M604.5 345.5l2 2l-2 2M609.5 345.5l2 2l-2 2M614.5 345.5l2 2l-2 2M619.5 345.5l2 2l-2 2M624.5 345.5l2 2l-2 2M629.5 345.5l2 2l-2 2M634.5 345.5l2 2l-2 2M639.5 345.5l2 2l-2 2M644.5 345.5l2 2l-2 2M649.5 345.5l2 2l-2 2M654.5 345.5l2 2l-2 2M659.5 345.5l2 2l-2 2M664.5 345.5l2 2l-2 2M669.5 345.5l2 2l-2 2M674.5 345.5l2 2l-2 2M679.5 345.5l2 2l-2 2M684.5 345.5l2 2l-2 2M689.5 345.5l2 2l-2 2M694.5 345.5l2 2l-2 2M699.5 345.5l2 2l-2 2M704.5 345.5l2 2l-2 2M709.5 345.5l2 2l-2 2M714.5 345.5l2 2l-2 2M719.5 345.5l2 2l-2 2M724.5 345.5l2 2l-2 2M729.5 345.5l2 2l-2 2M734.5 345.5l2 2l-2 2M739.5 345.5l2 2l-2 2M744.5 345.5l2 2l-2 2M749.5 345.5l2 2l-2 2M754.5 345.5l2 2l-2 2M759.5 345.5l2 2l-2 2M764.5 345.5l2 2l-2 2M769.5 345.5l2 2l-2 2M774.5 345.5l2 2l-2 2M779.5 345.5l2 2l-2 2M784.5 345.5l2 2l-2 2M789.5 345.5l2 2l-2 2M794.5 345.5l2 2l-2 2M799.5 345.5l2 2l-2 2" stroke="#fff" stroke-width="1" fill="none" stroke-linecap="square"/>
<text class="m" x="1211.5" y="350" fill="#1a1a96" stroke="#1a1a96" textLength="102" lengthAdjust="spacingAndGlyphs">dme-mir-1012_droS</text>
<text class="m" x="520.5" y="360" fill="#0064b4" stroke="#0064b4" textLength="168" lengthAdjust="spacingAndGlyphs">FlyBase Protein-Coding Genes</text>
<rect x="1" y="362" width="1208" height="9" fill="#0064b4"/>
<path d="M4.5 364.5l2 2l-2 2M14.5 364.5l2 2l-2 2M19.5 364.5l2 2l-2 2M24.5 364.5l2 2l-2 2M29.5 364.5l2 2l-2 2M34.5 364.5l2 2l-2 2M39.5 364.5l2 2l-2 2M44.5 364.5l2 2l-2 2M49.5 364.5l2 2l-2 2M54.5 364.5l2 2l-2 2M59.5 364.5l2 2l-2 2M64.5 364.5l2 2l-2 2M69.5 364.5l2 2l-2 2M74.5 364.5l2 2l-2 2M79.5 364.5l2 2l-2 2M84.5 364.5l2 2l-2 2M89.5 364.5l2 2l-2 2M94.5 364.5l2 2l-2 2M99.5 364.5l2 2l-2 2M104.5 364.5l2 2l-2 2M109.5 364.5l2 2l-2 2M114.5 364.5l2 2l-2 2M119.5 364.5l2 2l-2 2M124.5 364.5l2 2l-2 2M129.5 364.5l2 2l-2 2M134.5 364.5l2 2l-2 2M139.5 364.5l2 2l-2 2M144.5 364.5l2 2l-2 2M149.5 364.5l2 2l-2 2M154.5 364.5l2 2l-2 2M159.5 364.5l2 2l-2 2M164.5 364.5l2 2l-2 2M169.5 364.5l2 2l-2 2M174.5 364.5l2 2l-2 2M179.5 364.5l2 2l-2 2M184.5 364.5l2 2l-2 2M189.5 364.5l2 2l-2 2M194.5 364.5l2 2l-2 2M199.5 364.5l2 2l-2 2M204.5 364.5l2 2l-2 2M209.5 364.5l2 2l-2 2M214.5 364.5l2 2l-2 2M219.5 364.5l2 2l-2 2M224.5 364.5l2 2l-2 2M229.5 364.5l2 2l-2 2M234.5 364.5l2 2l-2 2M239.5 364.5l2 2l-2 2M244.5 364.5l2 2l-2 2M249.5 364.5l2 2l-2 2M254.5 364.5l2 2l-2 2M259.5 364.5l2 2l-2 2M264.5 364.5l2 2l-2 2M269.5 364.5l2 2l-2 2M274.5 364.5l2 2l-2 2M279.5 364.5l2 2l-2 2M284.5 364.5l2 2l-2 2M289.5 364.5l2 2l-2 2M294.5 364.5l2 2l-2 2M299.5 364.5l2 2l-2 2M304.5 364.5l2 2l-2 2M309.5 364.5l2 2l-2 2M314.5 364.5l2 2l-2 2M319.5 364.5l2 2l-2 2M324.5 364.5l2 2l-2 2M329.5 364.5l2 2l-2 2M334.5 364.5l2 2l-2 2M339.5 364.5l2 2l-2 2M344.5 364.5l2 2l-2 2M349.5 364.5l2 2l-2 2M354.5 364.5l2 2l-2 2M359.5 364.5l2 2l-2 2M364.5 364.5l2 2l-2 2M369.5 364.5l2 2l-2 2M374.5 364.5l2 2l-2 2M379.5 364.5l2 2l-2 2M384.5 364.5l2 2l-2 2M389.5 364.5l2 2l-2 2M394.5 364.5l2 2l-2 2M399.5 364.5l2 2l-2 2M404.5 364.5l2 2l-2 2M409.5 364.5l2 2l-2 2M414.5 364.5l2 2l-2 2M419.5 364.5l2 2l-2 2M424.5 364.5l2 2l-2 2M429.5 364.5l2 2l-2 2M434.5 364.5l2 2l-2 2M439.5 364.5l2 2l-2 2M444.5 364.5l2 2l-2 2M449.5 364.5l2 2l-2 2M454.5 364.5l2 2l-2 2M459.5 364.5l2 2l-2 2M464.5 364.5l2 2l-2 2M469.5 364.5l2 2l-2 2M474.5 364.5l2 2l-2 2M479.5 364.5l2 2l-2 2M484.5 364.5l2 2l-2 2M489.5 364.5l2 2l-2 2M494.5 364.5l2 2l-2 2M499.5 364.5l2 2l-2 2M504.5 364.5l2 2l-2 2M509.5 364.5l2 2l-2 2M514.5 364.5l2 2l-2 2M519.5 364.5l2 2l-2 2M524.5 364.5l2 2l-2 2M529.5 364.5l2 2l-2 2M534.5 364.5l2 2l-2 2M539.5 364.5l2 2l-2 2M544.5 364.5l2 2l-2 2M549.5 364.5l2 2l-2 2M554.5 364.5l2 2l-2 2M559.5 364.5l2 2l-2 2M564.5 364.5l2 2l-2 2M569.5 364.5l2 2l-2 2M574.5 364.5l2 2l-2 2M579.5 364.5l2 2l-2 2M584.5 364.5l2 2l-2 2M589.5 364.5l2 2l-2 2M594.5 364.5l2 2l-2 2M599.5 364.5l2 2l-2 2M604.5 364.5l2 2l-2 2M609.5 364.5l2 2l-2 2M614.5 364.5l2 2l-2 2M619.5 364.5l2 2l-2 2M624.5 364.5l2 2l-2 2M629.5 364.5l2 2l-2 2M634.5 364.5l2 2l-2 2M639.5 364.5l2 2l-2 2M644.5 364.5l2 2l-2 2M649.5 364.5l2 2l-2 2M654.5 364.5l2 2l-2 2M659.5 364.5l2 2l-2 2M664.5 364.5l2 2l-2 2M669.5 364.5l2 2l-2 2M674.5 364.5l2 2l-2 2M679.5 364.5l2 2l-2 2M684.5 364.5l2 2l-2 2M689.5 364.5l2 2l-2 2M694.5 364.5l2 2l-2 2M699.5 364.5l2 2l-2 2M704.5 364.5l2 2l-2 2M709.5 364.5l2 2l-2 2M714.5 364.5l2 2l-2 2M719.5 364.5l2 2l-2 2M724.5 364.5l2 2l-2 2M729.5 364.5l2 2l-2 2M734.5 364.5l2 2l-2 2M739.5 364.5l2 2l-2 2M744.5 364.5l2 2l-2 2M749.5 364.5l2 2l-2 2M754.5 364.5l2 2l-2 2M759.5 364.5l2 2l-2 2M764.5 364.5l2 2l-2 2M769.5 364.5l2 2l-2 2M774.5 364.5l2 2l-2 2M779.5 364.5l2 2l-2 2M784.5 364.5l2 2l-2 2M789.5 364.5l2 2l-2 2M794.5 364.5l2 2l-2 2M799.5 364.5l2 2l-2 2M804.5 364.5l2 2l-2 2M809.5 364.5l2 2l-2 2M814.5 364.5l2 2l-2 2M819.5 364.5l2 2l-2 2M824.5 364.5l2 2l-2 2M829.5 364.5l2 2l-2 2M834.5 364.5l2 2l-2 2M839.5 364.5l2 2l-2 2M844.5 364.5l2 2l-2 2M849.5 364.5l2 2l-2 2M854.5 364.5l2 2l-2 2M859.5 364.5l2 2l-2 2M864.5 364.5l2 2l-2 2M869.5 364.5l2 2l-2 2M874.5 364.5l2 2l-2 2M879.5 364.5l2 2l-2 2M884.5 364.5l2 2l-2 2M889.5 364.5l2 2l-2 2M894.5 364.5l2 2l-2 2M899.5 364.5l2 2l-2 2M904.5 364.5l2 2l-2 2M909.5 364.5l2 2l-2 2M914.5 364.5l2 2l-2 2M919.5 364.5l2 2l-2 2M924.5 364.5l2 2l-2 2M929.5 364.5l2 2l-2 2M934.5 364.5l2 2l-2 2M939.5 364.5l2 2l-2 2M944.5 364.5l2 2l-2 2M949.5 364.5l2 2l-2 2M954.5 364.5l2 2l-2 2M959.5 364.5l2 2l-2 2M964.5 364.5l2 2l-2 2M969.5 364.5l2 2l-2 2M974.5 364.5l2 2l-2 2M979.5 364.5l2 2l-2 2M984.5 364.5l2 2l-2 2M989.5 364.5l2 2l-2 2M994.5 364.5l2 2l-2 2M999.5 364.5l2 2l-2 2M1004.5 364.5l2 2l-2 2M1009.5 364.5l2 2l-2 2M1014.5 364.5l2 2l-2 2M1019.5 364.5l2 2l-2 2M1024.5 364.5l2 2l-2 2M1029.5 364.5l2 2l-2 2M1034.5 364.5l2 2l-2 2M1039.5 364.5l2 2l-2 2M1044.5 364.5l2 2l-2 2M1049.5 364.5l2 2l-2 2M1054.5 364.5l2 2l-2 2M1059.5 364.5l2 2l-2 2M1064.5 364.5l2 2l-2 2M1069.5 364.5l2 2l-2 2M1074.5 364.5l2 2l-2 2M1079.5 364.5l2 2l-2 2M1084.5 364.5l2 2l-2 2M1089.5 364.5l2 2l-2 2M1094.5 364.5l2 2l-2 2M1099.5 364.5l2 2l-2 2M1104.5 364.5l2 2l-2 2M1109.5 364.5l2 2l-2 2M1114.5 364.5l2 2l-2 2M1119.5 364.5l2 2l-2 2M1124.5 364.5l2 2l-2 2M1129.5 364.5l2 2l-2 2M1134.5 364.5l2 2l-2 2M1139.5 364.5l2 2l-2 2M1144.5 364.5l2 2l-2 2M1149.5 364.5l2 2l-2 2M1154.5 364.5l2 2l-2 2M1159.5 364.5l2 2l-2 2M1164.5 364.5l2 2l-2 2M1169.5 364.5l2 2l-2 2M1174.5 364.5l2 2l-2 2M1179.5 364.5l2 2l-2 2M1184.5 364.5l2 2l-2 2M1189.5 364.5l2 2l-2 2M1194.5 364.5l2 2l-2 2" stroke="#fff" stroke-width="1" fill="none" stroke-linecap="square"/>
<text class="m" x="1211.5" y="369" fill="#0064b4" stroke="#0064b4" textLength="72" lengthAdjust="spacingAndGlyphs">Dsim_GD18117</text>
<path d="M7 363v7l-3 -3.5zM11 363v7l-3 -3.5zM1201 363v7l3.5 -3.5zM1205 363v7l3 -3.5z" fill="#fff"/>
<rect x="1199" y="364" width="1" height="1" fill="#fff"/><rect x="1199" y="368" width="1" height="1" fill="#fff"/>
<text class="m" x="535.5" y="379" fill="#1e82d2" stroke="#1e82d2" textLength="138" lengthAdjust="spacingAndGlyphs">FlyBase Noncoding Genes</text>
<rect x="605" y="41" width="66" height="237.5" fill="none" stroke="#000" stroke-width="2" stroke-linejoin="round"/>
<path d="M671 278.5L1238.5 469" fill="none" stroke="#000" stroke-width="2" stroke-linecap="round"/>
<rect x="1238.5" y="469" width="7.5" height="50.5" fill="none" stroke="#000" stroke-width="2" stroke-linejoin="round"/>
</svg>
</body></html>
